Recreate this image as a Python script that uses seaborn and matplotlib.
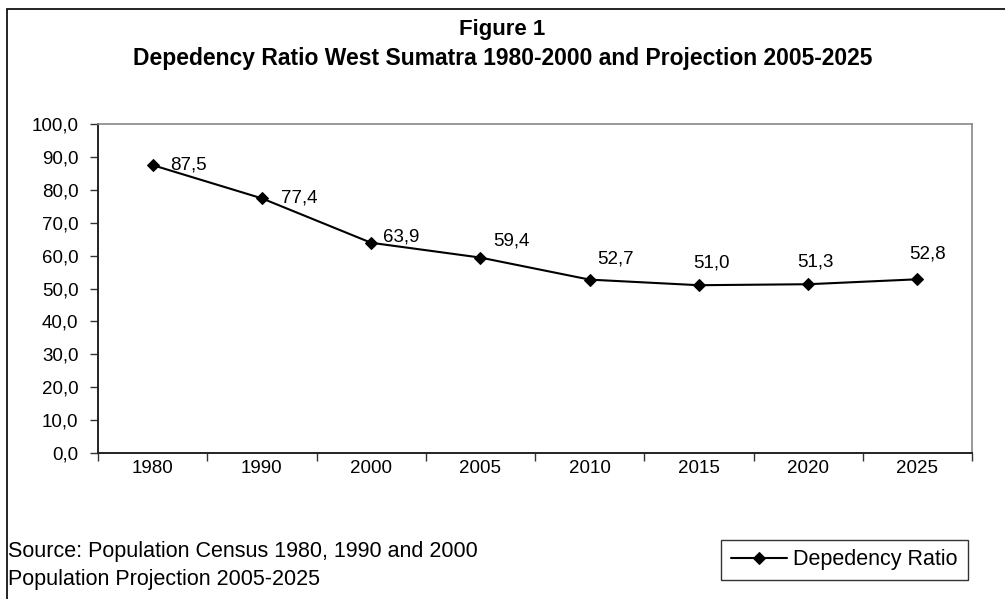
import matplotlib
matplotlib.use('Agg')
import matplotlib.pyplot as plt
import seaborn as sns
import pandas as pd
import numpy as np
from matplotlib.patches import Rectangle

# Data
years = ['1980', '1990', '2000', '2005', '2010', '2015', '2020', '2025']
ratio = [87.5, 77.4, 63.9, 59.4, 52.7, 51.0, 51.3, 52.8]

# label offsets in points (labels were nudged around by hand in the original)
label_dx = [26, 27, 22, 22, 19, 9, 5, 7]
label_dy = [0, 0, 4, 12, 15, 16, 16, 18]

df = pd.DataFrame({'Year': years, 'Depedency Ratio': ratio})

sns.set_style('white')
plt.rcParams['font.family'] = ['Liberation Sans', 'DejaVu Sans']
plt.rcParams['text.color'] = 'black'
plt.rcParams['xtick.color'] = 'black'
plt.rcParams['ytick.color'] = 'black'
plt.rcParams['axes.labelcolor'] = 'black'

fig = plt.figure(figsize=(10.05, 5.99), dpi=100)
ax = fig.add_axes([98 / 1005, 1 - 453 / 599, 874 / 1005, 329 / 599])

sns.lineplot(data=df, x='Year', y='Depedency Ratio', marker='D', markersize=6.5,
             color='black', linewidth=1.5, markeredgecolor='black', ax=ax,
             label='Depedency Ratio', legend=False, sort=False)

# data labels
for i, v in enumerate(ratio):
    ax.annotate(f'{v:.1f}'.replace('.', ','), (i, v),
                xytext=(label_dx[i], label_dy[i]), textcoords='offset points',
                ha='center', va='center', fontsize=13.5)

ax.set_xlim(-0.5, len(years) - 0.5)
ax.set_ylim(0, 100)
ax.set_yticks(np.arange(0, 101, 10))
ax.set_yticklabels([f'{t:.1f}'.replace('.', ',') for t in np.arange(0, 101, 10)], fontsize=13.5)
ax.set_xticks(range(len(years)))
ax.set_xticklabels(years, fontsize=13.5)
ax.set_xticks(np.arange(-0.5, len(years), 1), minor=True)
ax.tick_params(axis='x', which='major', length=0, pad=5)
ax.tick_params(axis='x', which='minor', length=6, width=1, color='#333333', direction='out', bottom=True)
ax.tick_params(axis='y', length=6, width=1, color='#333333', direction='out', left=True, pad=8)
ax.set_xlabel('')
ax.set_ylabel('')

for s in ['left', 'bottom']:
    ax.spines[s].set_color('#222222')
    ax.spines[s].set_linewidth(1.4)
for s in ['top', 'right']:
    ax.spines[s].set_color('#888888')
    ax.spines[s].set_linewidth(1.2)

# titles
fig.text(0.5, 1 - 30 / 599, 'Figure 1', ha='center', va='center', fontsize=16, fontweight='bold')
fig.text(0.5, 1 - 58 / 599, 'Depedency Ratio West Sumatra 1980-2000 and Projection 2005-2025',
         ha='center', va='center', fontsize=16.5, fontweight='bold')

# source notes
fig.text(8 / 1005, 1 - 551 / 599, 'Source: Population Census 1980, 1990 and 2000',
         ha='left', va='center', fontsize=15.5)
fig.text(8 / 1005, 1 - 580 / 599, 'Population Projection 2005-2025',
         ha='left', va='center', fontsize=15.5)

# legend
leg = fig.legend(handles=ax.get_lines()[:1], labels=['Depedency Ratio'],
                 loc='center', bbox_to_anchor=(844.5 / 1005, 1 - 560 / 599),
                 fontsize=15.5, frameon=True, fancybox=False, handlelength=2.6,
                 borderpad=0.45, handletextpad=0.3, borderaxespad=0)
leg.get_frame().set_edgecolor('black')
leg.get_frame().set_linewidth(1.0)

# outer chart border
fig.patches.append(Rectangle((7 / 1005, -0.05), 1.2, 1 - 9 / 599 + 0.05,
                             transform=fig.transFigure, fill=False,
                             edgecolor='black', linewidth=1.2))

fig.savefig('out.png', dpi=100)
